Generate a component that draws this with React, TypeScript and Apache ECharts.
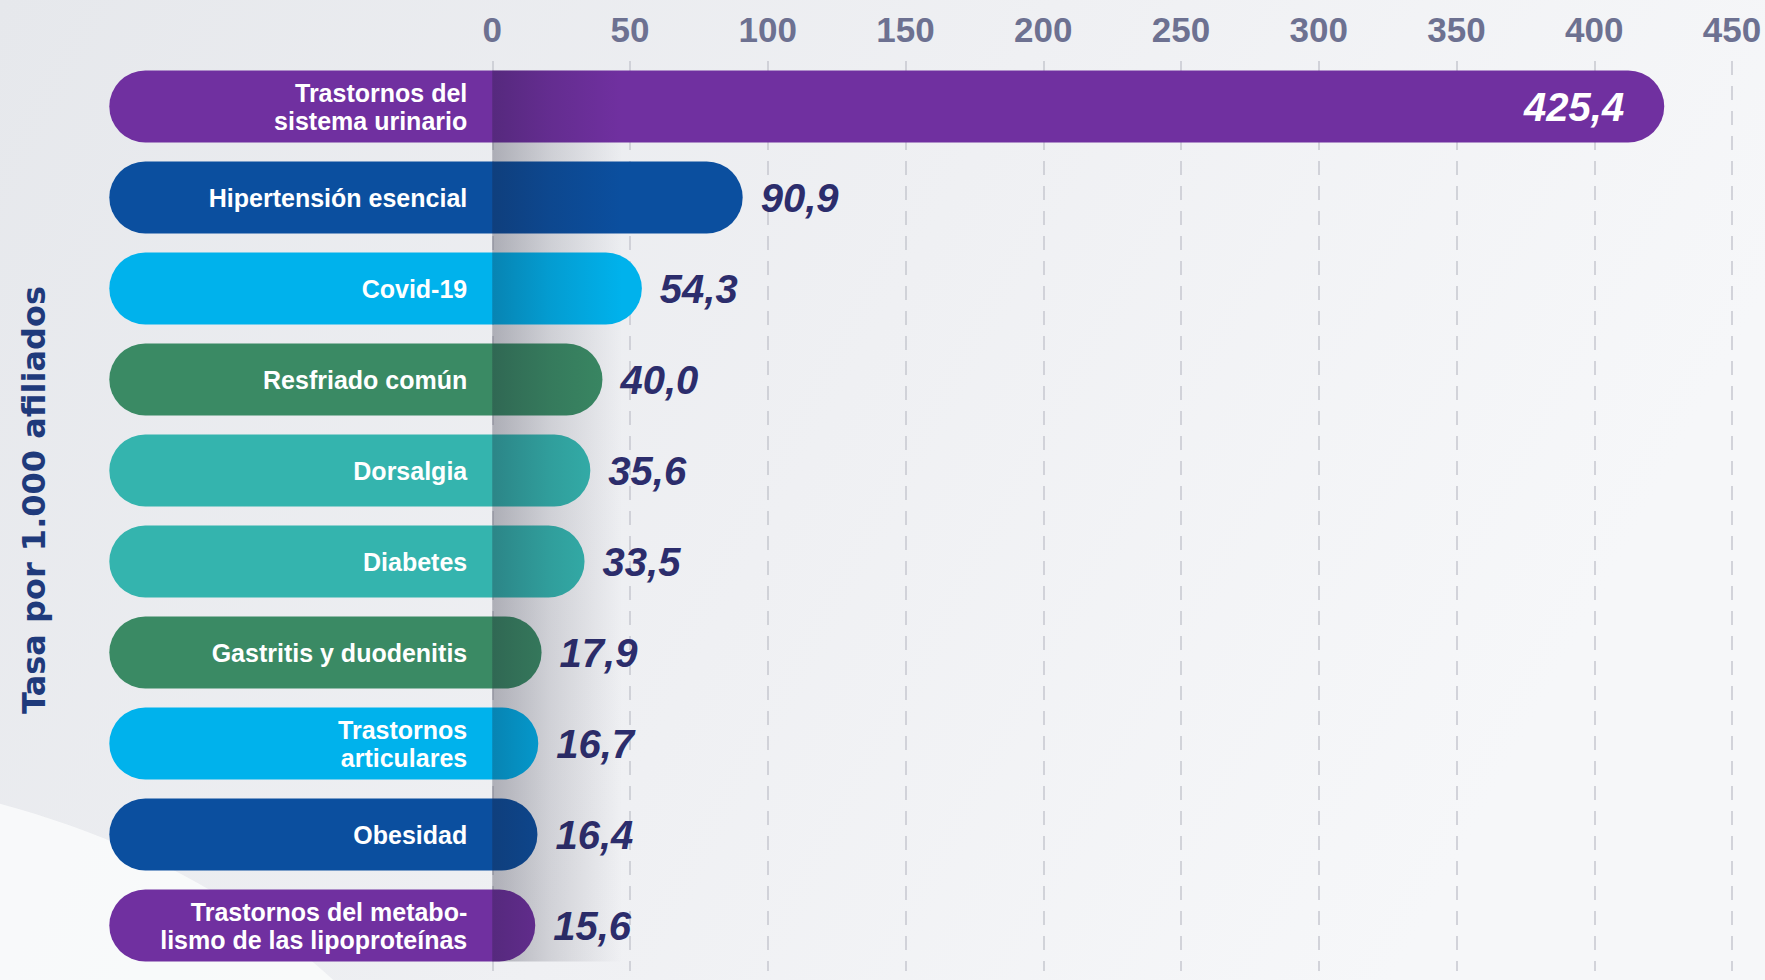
import React, { useEffect, useRef } from 'react';
import * as echarts from 'echarts';

// ---- data ----
const categories = [
  'Trastornos del\nsistema urinario',
  'Hipertensión esencial',
  'Covid-19',
  'Resfriado común',
  'Dorsalgia',
  'Diabetes',
  'Gastritis y duodenitis',
  'Trastornos\narticulares',
  'Obesidad',
  'Trastornos del metabo-\nlismo de las lipoproteínas',
];
const values = [425.4, 90.9, 54.3, 40.0, 35.6, 33.5, 17.9, 16.7, 16.4, 15.6];
const barColors = [
  '#7030a0', '#0b4f9f', '#00b2ec', '#3a8a64', '#34b4ae',
  '#34b4ae', '#3a8a64', '#00b2ec', '#0b4f9f', '#7030a0',
];
const tickValues = [0, 50, 100, 150, 200, 250, 300, 350, 400, 450];
const axisTitle = 'Tasa por 1.000 afiliados';

// ---- layout constants ----
const LABEL_START = -139; // where the rounded pill begins (label zone left of 0)
const AXIS_MIN = -150;
const AXIS_MAX = 450;
const INTERVAL = 50;
const BAR_H = 72;

const fmt = (v: number) => v.toFixed(1).replace('.', ',');

export default function App() {
  const ref = useRef<HTMLDivElement>(null);

  useEffect(() => {
    document.body.style.margin = '0';
    const chart = echarts.init(ref.current!, null, { renderer: 'svg' });

    const option: any = {
      animation: false,
      backgroundColor: new echarts.graphic.LinearGradient(0, 0, 1, 0.3, [
        { offset: 0, color: '#e6e8ec' },
        { offset: 0.55, color: '#eff0f3' },
        { offset: 1, color: '#f6f7f9' },
      ]),
      grid: { left: 79, right: 33, top: 61, bottom: 9, containLabel: false },
      xAxis: {
        type: 'value',
        position: 'top',
        min: AXIS_MIN,
        max: AXIS_MAX,
        interval: INTERVAL,
        axisLine: { show: false },
        axisTick: { show: false },
        splitLine: { show: false },
        axisLabel: {
          margin: 14,
          fontFamily: '"Liberation Sans Narrow", "Liberation Sans", Arial, sans-serif',
          fontWeight: 'bold',
          fontSize: 35,
          color: '#6d7191',
          formatter: (v: number) => (tickValues.includes(v) ? String(v) : ''),
        },
      },
      yAxis: {
        type: 'category',
        inverse: true,
        data: categories,
        axisLine: { show: false },
        axisTick: { show: false },
        axisLabel: { show: false },
        splitLine: { show: false },
      },
      series: [
        {
          name: 'gridlines',
          type: 'line',
          data: [],
          z: 0,
          silent: true,
          markLine: {
            z: 0,
            silent: true,
            symbol: ['none', 'none'],
            label: { show: false },
            lineStyle: { type: [14, 11], color: '#c6c8cf', width: 1.5 },
            data: tickValues.map((v) => ({ xAxis: v })),
          },
        },
        {
          name: 'labelZone',
          type: 'bar',
          stack: 'pill',
          stackStrategy: 'all',
          barWidth: BAR_H,
          z: 4,
          itemStyle: { color: 'rgba(0,0,0,0)' },
          label: {
            show: true,
            position: 'insideRight',
            distance: 25,
            formatter: (p: any) => p.name,
            color: '#ffffff',
            fontFamily: '"Liberation Sans", Arial, sans-serif',
            fontWeight: 'bold',
            fontSize: 25,
            lineHeight: 28,
            align: 'right',
          },
          data: categories.map(() => LABEL_START),
        },
        {
          name: 'Tasa',
          type: 'bar',
          stack: 'pill',
          stackStrategy: 'all',
          barWidth: BAR_H,
          z: 2,
          itemStyle: { borderRadius: BAR_H / 2 },
          label: {
            show: true,
            position: 'right',
            distance: 18,
            formatter: (p: any) => fmt(values[p.dataIndex]),
            color: '#2c2d6c',
            fontFamily: '"Liberation Sans", Arial, sans-serif',
            fontWeight: 'bold',
            fontStyle: 'italic',
            fontSize: 40,
          },
          data: values.map((v, i) => ({
            value: v - LABEL_START,
            itemStyle: { color: barColors[i] },
            label:
              v > 300
                ? { position: 'insideRight', distance: 40, color: '#ffffff' }
                : undefined,
          })),
        },
      ],
    };
    chart.setOption(option);

    const x0 = chart.convertToPixel({ xAxisIndex: 0 }, 0) as number;
    const yFirst = chart.convertToPixel({ yAxisIndex: 0 }, 0) as number;
    const yLast = chart.convertToPixel({ yAxisIndex: 0 }, categories.length - 1) as number;

    chart.setOption({
      graphic: [
        {
          type: 'ellipse',
          z: -1,
          silent: true,
          shape: { cx: -260, cy: 1330, rx: 760, ry: 560 },
          style: { fill: 'rgba(250,251,252,0.85)' },
        },
        {
          type: 'rect',
          z: 3,
          silent: true,
          shape: { x: x0, y: yFirst - BAR_H / 2, width: 130, height: yLast - yFirst + BAR_H },
          style: {
            fill: new echarts.graphic.LinearGradient(0, 0, 1, 0, [
              { offset: 0, color: 'rgba(25,25,45,0.30)' },
              { offset: 0.45, color: 'rgba(25,25,45,0.14)' },
              { offset: 1, color: 'rgba(25,25,45,0)' },
            ]),
          },
        },
        {
          type: 'text',
          x: 34,
          y: 500,
          rotation: Math.PI / 2,
          silent: true,
          style: {
            text: axisTitle,
            fontFamily: '"DejaVu Sans", sans-serif',
            fontWeight: 'bold',
            fontSize: 32,
            fill: '#1f3a7b',
            align: 'center',
            verticalAlign: 'middle',
          },
        },
      ],
    });

    return () => chart.dispose();
  }, []);

  return <div ref={ref} style={{ width: 1765, height: 980 }} />;
}
